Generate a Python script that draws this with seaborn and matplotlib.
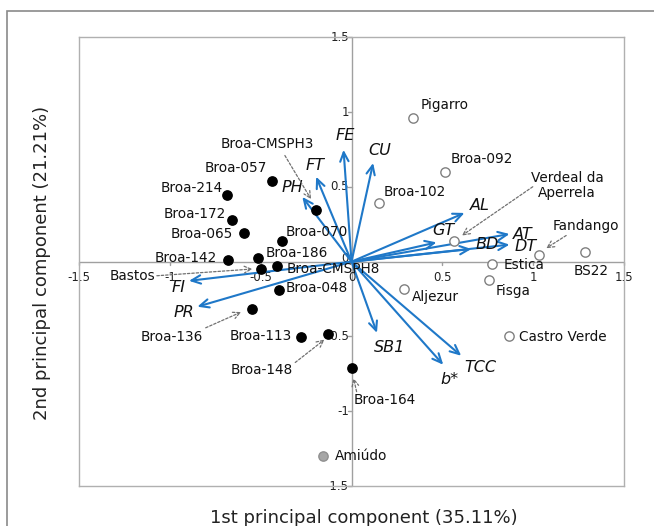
import matplotlib
matplotlib.use("Agg")
import matplotlib.pyplot as plt
import seaborn as sns
import pandas as pd
from matplotlib.patches import Rectangle

sns.set_theme(style="white")
plt.rcParams['font.family'] = ['DejaVu Sans']

# --- data: cultivars (scores) ---
names = ["Pigarro", "Broa-092", "Broa-102", "Verdeal da\nAperrela", "Fandango", "BS22",
         "Estica", "Fisga", "Aljezur", "Castro Verde", "Amiúdo",
         "Broa-057", "Broa-214", "Broa-172", "Broa-065", "Broa-CMSPH3", "Broa-070",
         "Broa-186", "Broa-142", "Bastos", "Broa-CMSPH8", "Broa-048", "Broa-136",
         "Broa-113", "Broa-148", "Broa-164"]
pc1 = [0.337, 0.514, 0.149, 0.562, 1.033, 1.288, 0.776, 0.755, 0.287, 0.865, -0.156,
       -0.438, -0.686, -0.656, -0.590, -0.195, -0.383, -0.514, -0.679, -0.496, -0.409,
       -0.399, -0.546, -0.280, -0.131, 0.0]
pc2 = [0.961, 0.602, 0.393, 0.135, 0.047, 0.063, -0.018, -0.124, -0.184, -0.499, -1.298,
       0.541, 0.449, 0.281, 0.195, 0.348, 0.135, 0.027, 0.011, -0.049, -0.027,
       -0.186, -0.314, -0.501, -0.483, -0.714]
group = ["open"] * 10 + ["gray"] + ["black"] * 15

# label positions (x, y) and alignment
lab_x = [0.383, 0.546, 0.179, 1.187, 1.292, 1.320, 0.838, 0.796, 0.333, 0.923, -0.092,
         -0.464, -0.711, -0.693, -0.650, -0.464, -0.365, -0.475, -0.739, -1.079, -0.356,
         -0.365, -0.819, -0.326, -0.321, 0.011]
lab_y = [1.045, 0.687, 0.467, 0.51, 0.240, -0.061, -0.022, -0.198, -0.236, -0.503, -1.298,
         0.624, 0.494, 0.317, 0.186, 0.788, 0.198, 0.058, 0.025, -0.094, -0.049,
         -0.175, -0.505, -0.499, -0.723, -0.925]
lab_ha = ["left", "left", "left", "center", "center", "center", "left", "left", "left", "left", "left",
          "right", "right", "right", "right", "center", "left", "left", "right", "right", "left",
          "left", "right", "right", "right", "left"]

# dashed leader arrows: (from x, from y, to x, to y)
lead_x0 = [-0.367, -1.072, -0.803, -0.310, 0.028, 0.998, 1.182]
lead_y0 = [0.710, -0.094, -0.442, -0.674, -0.869, 0.501, 0.175]
lead_x1 = [-0.223, -0.546, -0.608, -0.149, 0.011, 0.608, 1.072]
lead_y1 = [0.418, -0.049, -0.337, -0.521, -0.779, 0.175, 0.090]

# --- data: variables (loadings) ---
vars_ = ["FE", "CU", "FT", "PH", "AL", "GT", "AT", "BD", "DT", "FI", "PR", "SB1", "b*", "TCC"]
load1 = [-0.044, 0.119, -0.195, -0.271, 0.622, 0.468, 0.870, 0.660, 0.870, -0.895, -0.849, 0.140, 0.505, 0.604]
load2 = [0.748, 0.660, 0.568, 0.433, 0.326, 0.129, 0.185, 0.085, 0.114, -0.128, -0.301, -0.476, -0.689, -0.629]
vlab_x = [-0.034, 0.154, -0.202, -0.328, 0.705, 0.505, 0.941, 0.746, 0.957, -0.952, -0.925, 0.207, 0.539, 0.711]
vlab_y = [0.844, 0.743, 0.642, 0.499, 0.373, 0.207, 0.182, 0.112, 0.103, -0.173, -0.337, -0.575, -0.790, -0.705]

ticks = [-1.5, -1, -0.5, 0, 0.5, 1, 1.5]
tick_labels = ["-1.5", "-1", "-0.5", "0", "0.5", "1", "1.5"]

df = pd.DataFrame({"name": names, "PC1": pc1, "PC2": pc2, "group": group})

fig = plt.figure(figsize=(6.54, 5.26), dpi=100)
ax = fig.add_axes([0.121, 0.076, 0.833, 0.853])
ax.set_xlim(-1.5, 1.5)
ax.set_ylim(-1.5, 1.5)

gray = "#a6a6a6"
for s in ax.spines.values():
    s.set_color("#b0b0b0")
    s.set_linewidth(1.0)
ax.axhline(0, color="#a0a0a0", lw=1.0, zorder=1)
ax.axvline(0, color="#a0a0a0", lw=1.0, zorder=1)
ax.set_xticks([])
ax.set_yticks([])

# tick marks and labels on center axes
for t, tl in zip(ticks, tick_labels):
    ax.plot([t, t], [0, -0.02], color="#a0a0a0", lw=1, zorder=1, clip_on=False)
    ax.plot([-0.02, 0], [t, t], color="#a0a0a0", lw=1, zorder=1, clip_on=False)
    ax.text(t, -0.105, tl, ha="center", va="center", fontsize=8.5, color="#222222", zorder=2)
    if t != 0:
        ax.text(-0.015, t, tl, ha="right", va="center", fontsize=8.5, color="#222222", zorder=2)
ax.text(-0.015, 0.02, "0", ha="right", va="center", fontsize=8.5, color="#222222", zorder=2)

# loadings arrows
blue = "#1f78c8"
for v, x, y, lx, ly in zip(vars_, load1, load2, vlab_x, vlab_y):
    ax.annotate("", xy=(x, y), xytext=(0, 0),
                arrowprops=dict(arrowstyle="->,head_length=0.55,head_width=0.25", color=blue, lw=1.5,
                                shrinkA=0, shrinkB=0), zorder=3)
    ax.text(lx, ly, v, ha="center", va="center", fontsize=11.5, style="italic", color="#111111", zorder=4)

# scores
palette = {"open": "white", "gray": gray, "black": "black"}
edge_colors = {"open": "#808080", "gray": "#909090", "black": "black"}
for g in ["open", "gray", "black"]:
    sub = df[df.group == g]
    sns.scatterplot(data=sub, x="PC1", y="PC2", ax=ax, color=palette[g], edgecolor=edge_colors[g],
                    linewidth=1.0, s=45, zorder=5, legend=False)

for n, x, y, ha in zip(names, lab_x, lab_y, lab_ha):
    ax.text(x, y, n, ha=ha, va="center", fontsize=9.8, color="#111111", zorder=6, linespacing=1.1)

for x0, y0, x1, y1 in zip(lead_x0, lead_y0, lead_x1, lead_y1):
    ax.annotate("", xy=(x1, y1), xytext=(x0, y0),
                arrowprops=dict(arrowstyle="->,head_length=0.4,head_width=0.2", color="#707070", lw=0.9,
                                linestyle=(0, (2, 1.5)), shrinkA=0, shrinkB=0), zorder=4)

ax.set_xlabel("")
ax.set_ylabel("")
fig.text(0.556, 0.015, "1st principal component (35.11%)", ha="center", va="center", fontsize=13, color="#222222")
fig.text(0.064, 0.5, "2nd principal component (21.21%)", ha="center", va="center", rotation=90, fontsize=13, color="#222222")

# outer frame
fig.patches.append(Rectangle((0.011, -0.05), 1.2, 1.03, transform=fig.transFigure, fill=False,
                             edgecolor="#8a8a8a", lw=1.2))

fig.savefig("out.png", dpi=100)
